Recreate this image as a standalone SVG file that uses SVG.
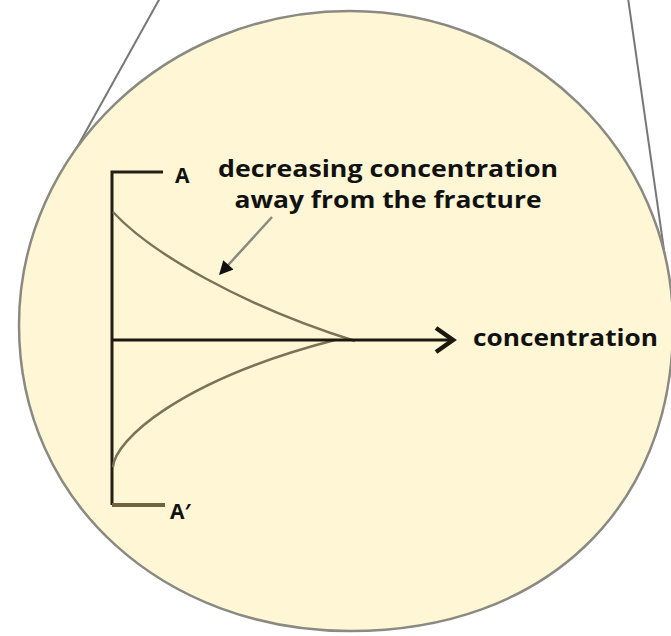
<svg xmlns="http://www.w3.org/2000/svg" width="671" height="636" viewBox="0 0 671 636">
<defs>
<style>
.lbl{font-family:"Open Sans","Liberation Sans",sans-serif;font-weight:700;fill:#111;}
.tan{stroke:#777;stroke-width:2;fill:none;}
.curve{stroke:#7b7258;stroke-width:2.5;fill:none;}
.axis{stroke:#241f14;stroke-width:3;fill:none;}
</style>
<marker id="tri" viewBox="0 0 10 10" refX="9" refY="5" markerWidth="6" markerHeight="5.5" orient="auto" markerUnits="strokeWidth">
<path d="M0,0 L10,5 L0,10 z" fill="#111"/>
</marker>
</defs>
<rect width="671" height="636" fill="#fff"/>
<g id="loupe">
<line class="tan" x1="160" y1="-2" x2="70" y2="160"/>
<line class="tan" x1="628" y1="-2" x2="672" y2="306"/>
<path d="M350,11 C528,11 673,152 673,325 C673,509 544,631 350,631 C166,631 19,504 19,325 C19,152 167,11 350,11 Z" fill="#fef6d4" stroke="#8a8a82" stroke-width="2.5"/>
</g>
<g id="axes">
<path class="axis" d="M163,172 H112 V505"/>
<path d="M112,505 H165" stroke="#6e6440" stroke-width="4" fill="none"/>
</g>
<g id="curves">
<path class="curve" d="M113,212 C150,252 240,305 355,341"/>
<path class="curve" d="M113,467 C115,440 180,380 335,340"/>
</g>
<g id="connectors">
<line x1="112" y1="340" x2="452" y2="340" stroke="#1c1810" stroke-width="3"/>
<path d="M436,328 L453,340 L436,352" stroke="#1c1810" stroke-width="4.5" fill="none" stroke-linejoin="miter"/>
<line x1="272" y1="217" x2="220" y2="274" stroke="#8a8a82" stroke-width="2.5" marker-end="url(#tri)"/>
</g>
<g id="label-A">
<text class="lbl" x="175" y="183" font-size="21">A</text>
</g>
<g id="label-A-prime">
<text class="lbl" x="170" y="519" font-size="21">A′</text>
</g>
<g id="label-decreasing">
<text class="lbl" x="388" y="177" font-size="23" text-anchor="middle" textLength="340" lengthAdjust="spacingAndGlyphs">decreasing concentration</text>
<text class="lbl" x="388" y="208" font-size="23" text-anchor="middle" textLength="307" lengthAdjust="spacingAndGlyphs">away from the fracture</text>
</g>
<g id="label-concentration">
<text class="lbl" x="473" y="346" font-size="24" textLength="185" lengthAdjust="spacingAndGlyphs">concentration</text>
</g>
</svg>
